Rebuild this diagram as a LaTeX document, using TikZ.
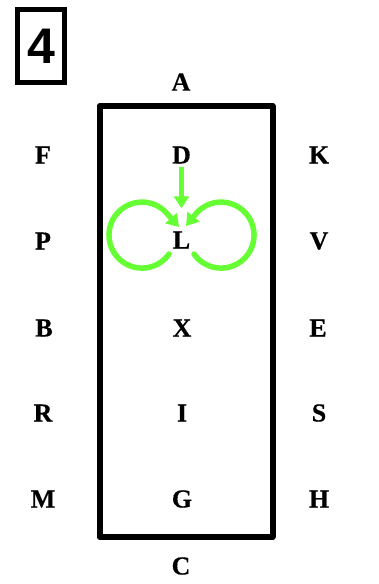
\documentclass[tikz,border=0pt]{standalone}
\usepackage{fontspec}
\setmainfont{Liberation Serif}
\newfontfamily\lblfont{Liberation Serif Bold}[FakeBold=0.5]
\newfontfamily\digitfont{Liberation Sans Bold}
\usetikzlibrary{arrows.meta}
\definecolor{loopgreen}{RGB}{102,255,51}
\begin{document}
\begin{tikzpicture}[x=1pt,y=1pt,
  lbl/.style={inner sep=0pt,font=\fontsize{26}{26}\lblfont},
  flow/.style={loopgreen,line width=5.5pt,-{Triangle[width=15pt,length=12pt]}}]
\useasboundingbox (0,0) rectangle (379,-584);
%\draw[very thin, gray] (0,0) grid[step=10] (379,-584);
% the number in its box
\node[draw,line width=5pt,minimum width=47pt,minimum height=73pt,inner sep=0pt,
  font=\fontsize{50}{50}\digitfont] (num) at (41,-46) {4};
% the long box
\draw[line width=6pt,line join=round] (99.5,-106) rectangle (272.5,-537);
\node[lbl] (A) at (181,-82) {A};
\node[lbl] (C) at (181,-566) {C};
\node[lbl] (F) at (43,-155) {F};
\node[lbl] (D) at (181.5,-155) {D};
\node[lbl] (K) at (319,-155) {K};
\node[lbl] (P) at (43,-241) {P};
\node[lbl] (L) at (181.5,-240) {L};
\node[lbl] (V) at (319,-241) {V};
\node[lbl] (B) at (44,-328) {B};
\node[lbl] (X) at (182,-328) {X};
\node[lbl] (E) at (318,-328) {E};
\node[lbl] (R) at (43,-413) {R};
\node[lbl] (I) at (182,-413) {I};
\node[lbl] (S) at (319,-413) {S};
\node[lbl] (M) at (43,-499) {M};
\node[lbl] (G) at (182,-499) {G};
\node[lbl] (H) at (319,-499) {H};
% arrows into L
\draw[flow,shorten <=3pt,shorten >=23pt] (D.south) -- (L.north);
\coordinate (lstart) at (169,-254);
\coordinate (ltip) at (179,-227);
\coordinate (rstart) at (194,-254);
\coordinate (rtip) at (186,-226);
\draw[flow,line cap=round] (lstart) arc[start angle=-35,end angle=-320,radius=33] -- (ltip);
\draw[flow,line cap=round] (rstart) arc[start angle=215,end angle=500,radius=33] -- (rtip);
\end{tikzpicture}
\end{document}
